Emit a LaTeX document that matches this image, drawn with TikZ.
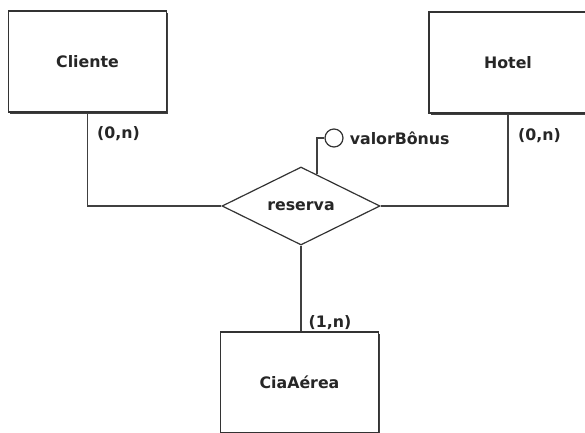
\documentclass[tikz,border=0pt]{standalone}
\usepackage{fontspec}
\setmainfont{DejaVu Sans}
\usetikzlibrary{shapes.geometric,positioning,calc,shadows}

\begin{document}
\begin{tikzpicture}[
    x=1pt, y=-1pt,
    entity/.style={draw=black!80, line width=1.4pt, fill=white, minimum width=158pt, minimum height=101pt,
                   font=\fontsize{15.8}{18}\selectfont\bfseries, text=black!85,
                   drop shadow={shadow xshift=1.6pt, shadow yshift=-1.6pt, fill=black!75, opacity=1}},
    relation/.style={diamond, draw=black!80, line width=1.2pt, fill=white, aspect=2, inner sep=0pt,
                     minimum width=158pt, minimum height=78pt,
                     font=\fontsize{15.8}{18}\selectfont\bfseries, text=black!85},
    attrib/.style={circle, draw=black!80, line width=1.2pt, fill=white, inner sep=0pt, minimum size=18pt},
    card/.style={font=\fontsize{15.8}{18}\selectfont\bfseries, text=black!85, inner sep=0pt},
    link/.style={draw=black!75, line width=1.2pt},
]
\useasboundingbox (0,0) rectangle (585,432);
\clip (0,0) rectangle (585,432);

% Entities
\node[entity] (cliente) at (87.5,61.5) {Cliente};
\node[entity] (hotel) at (508,62.5) {Hotel};
\node[entity] (cia) at (299.5,382.5) {CiaAérea};

% Relationship
\node[relation] (reserva) at (301,206) {reserva};

% Attribute
\node[attrib] (bonus) at (334,138) {};
\node[card, right=6pt of bonus] (bonuslabel) {valorBônus};

% Connectors
\draw[link] (cliente.south) |- (reserva.west);
\draw[link] (hotel.south) |- (reserva.east);
\draw[link] (reserva.south) -- (reserva.south |- cia.north);
\draw[link] ($(reserva.north)!0.2!(reserva.east)$) |- (bonus.west);

% Cardinalities
\node[card, below right=13.5pt and 9.5pt of cliente.south] (cardcliente) {(0,n)};
\node[card, below right=14.5pt and 10pt of hotel.south] (cardhotel) {(0,n)};
\node[card, above right=1.5pt and 9pt of cia.north] (cardcia) {(1,n)};

\end{tikzpicture}
\end{document}
